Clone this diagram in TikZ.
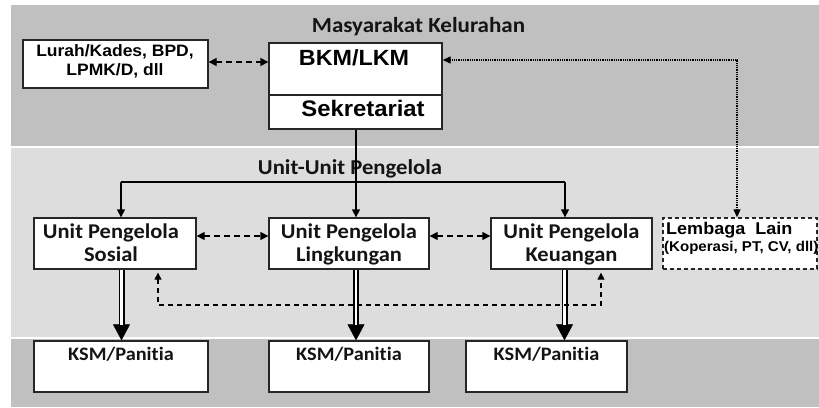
\documentclass[tikz,border=0pt]{standalone}
\usepackage{fontspec}
\newfontfamily\calfont[FakeStretch=1.07,RawFeature={-liga}]{Carlito}
\newfontfamily\arfont[FakeStretch=1.06]{Liberation Sans}
\usetikzlibrary{arrows.meta}
\definecolor{bandA}{HTML}{C0C0C0}
\definecolor{bandB}{HTML}{DDDDDD}
\definecolor{txt}{HTML}{141414}
\begin{document}
\begin{tikzpicture}[x=1pt,y=-1pt,
  box/.style={draw=black!85, line width=1.3pt, fill=white, inner sep=0pt},
  dbox/.style={box, dashed, dash pattern=on 4pt off 3pt},
  caltext/.style={font=\calfont\bfseries\fontsize{#1}{#1}\selectfont, text=txt, inner sep=0pt, anchor=base},
  artext/.style={font=\arfont\bfseries\fontsize{#1}{#1}\selectfont, text=black, inner sep=0pt, anchor=base},
  conn/.style={line width=1.3pt, -{Triangle[width=8pt,length=8pt]}},
  dconn/.style={line width=1.3pt, dash pattern=on 6pt off 4pt, {Triangle[width=8pt,length=8pt]}-{Triangle[width=8pt,length=8pt]}},
  fbconn/.style={line width=1.1pt, dash pattern=on 5pt off 4pt, {Triangle[width=7pt,length=7pt]}-{Triangle[width=7pt,length=7pt]}},
  dotconn/.style={line width=1.2pt, dash pattern=on 1pt off 0.8pt, {Triangle[width=7pt,length=8pt]}-{Triangle[width=7pt,length=8pt]}},
  bigtip/.style={line width=0.6pt, -{Triangle[width=17pt,length=16pt]}},
  dbl/.style={line width=1.6pt, double=white, double distance=2.8pt, shorten >=15pt}
]
\useasboundingbox (0,0) rectangle (819,407);
% bands
\fill[bandA] (11,5) rectangle (819,146);
\fill[bandB] (11,148) rectangle (819,337);
\fill[bandA] (11,339) rectangle (819,407);

% boxes
\node[box, minimum width=185pt, minimum height=48pt] (lurah) at (115.5,64) {};
\node[box, minimum width=173pt, minimum height=52pt] (bkm) at (355.5,69) {};
\node[box, minimum width=173pt, minimum height=34pt] (sek) at (355.5,112) {};
\node[box, minimum width=162pt, minimum height=51pt] (sos) at (115,243.5) {};
\node[box, minimum width=160pt, minimum height=51pt] (ling) at (349,243.5) {};
\node[box, minimum width=161pt, minimum height=51pt] (keu) at (571.5,243.5) {};
\node[dbox, minimum width=154pt, minimum height=51pt] (lem) at (740,243.5) {};
\node[box, minimum width=174pt, minimum height=51pt] (ksm1) at (121,366.5) {};
\node[box, minimum width=160pt, minimum height=51pt] (ksm2) at (349,366.5) {};
\node[box, minimum width=161pt, minimum height=51pt] (ksm3) at (546.5,366.5) {};

% texts
\node[caltext=21.5] (tmas) at (418.5,32) {Masyarakat Kelurahan};
\node[caltext=21.2] (tunit) at (350,174) {Unit-Unit Pengelola};
\node[artext=16.5] (tlur1) at (115,56.7) {Lurah/Kades, BPD,};
\node[artext=16.5] (tlur2) at (115,75) {LPMK/D, dll};
\node[artext=22] (tbkm) at (354,65) {BKM/LKM};
\node[artext=22.5] (tsek) at (363,116) {Sekretariat};
\node[caltext=21] (tsos1) at (111,238.3) {Unit Pengelola};
\node[caltext=21] (tsos2) at (111,261.7) {Sosial};
\node[caltext=21] (tling1) at (349,238.3) {Unit Pengelola};
\node[caltext=21] (tling2) at (349,261.7) {Lingkungan};
\node[caltext=21] (tkeu1) at (571.5,238.3) {Unit Pengelola};
\node[caltext=21] (tkeu2) at (571.5,261.7) {Keuangan};
\node[artext=17, anchor=base west] (tlem1) at (666,234) {Lembaga\ \ Lain};
\node[artext=14.2, anchor=base west] (tlem2) at (664,251.7) {(Koperasi, PT, CV, dll)};
\node[caltext=19] (tksm1) at (121,360.7) {KSM/Panitia};
\node[caltext=19] (tksm2) at (349,360.7) {KSM/Panitia};
\node[caltext=19] (tksm3) at (546.5,360.7) {KSM/Panitia};

% helper coordinates
\coordinate (trunk) at (356,182);
\coordinate (hl) at (121,182);
\coordinate (hr) at (565,182);
\coordinate (dy) at (0,236);
\coordinate (dotc) at (737,60);
\coordinate (fb1) at (158,305);
\coordinate (fb2) at (601,305);
\coordinate (d1) at (121.5,0);
\coordinate (d2) at (356,0);
\coordinate (d3) at (564.5,0);

% connectors
\draw[dconn] (lurah.east |- 0,62) -- (bkm.west |- 0,62);
\draw[dotconn] (dotc -| bkm.east) -- (dotc) -- (dotc |- lem.north);
\draw[conn] (sek.south -| trunk) -- (ling.north -| trunk);
\draw[line width=1.3pt] (hl) -- (hr);
\draw[conn] (hl) -- (hl |- sos.north);
\draw[conn] (hr) -- (hr |- keu.north);
\draw[dconn] (sos.east |- dy) -- (ling.west |- dy);
\draw[dconn] (ling.east |- dy) -- (keu.west |- dy);

% double arrows
\draw[bigtip] (sos.south -| d1) -- (ksm1.north -| d1);
\draw[dbl] (sos.south -| d1) -- (ksm1.north -| d1);
\draw[bigtip] (ling.south -| d2) -- (ksm2.north -| d2);
\draw[dbl] (ling.south -| d2) -- (ksm2.north -| d2);
\draw[bigtip] (keu.south -| d3) -- (ksm3.north -| d3);
\draw[dbl] (keu.south -| d3) -- (ksm3.north -| d3);

% feedback
\draw[fbconn, shorten <=3pt, shorten >=3pt] (fb1 |- sos.south) -- (fb1) -- (fb2) -- (fb2 |- keu.south);
\end{tikzpicture}
\end{document}
